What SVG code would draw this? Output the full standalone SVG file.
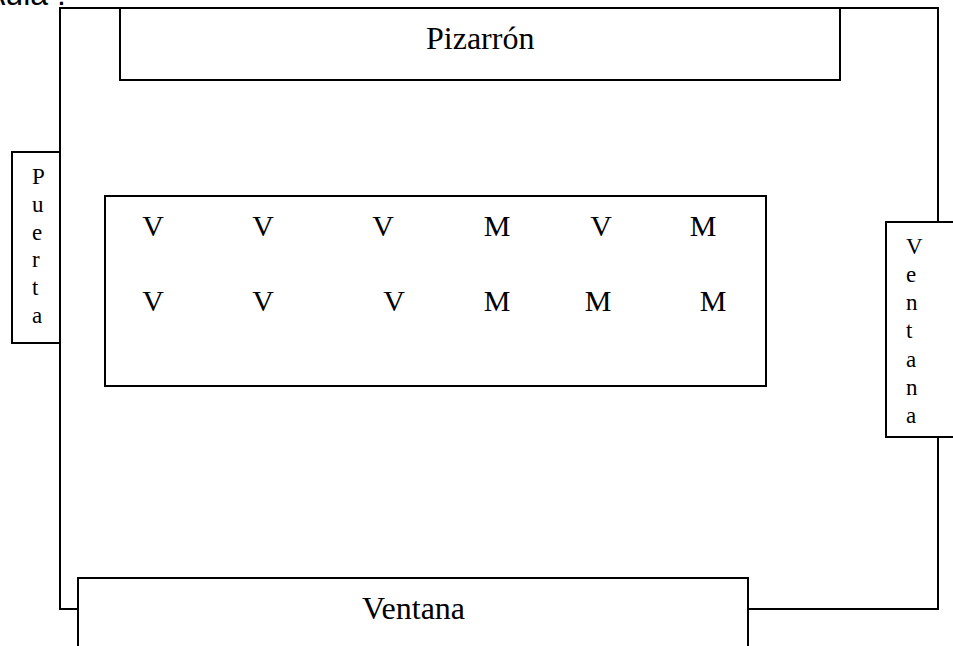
<svg xmlns="http://www.w3.org/2000/svg" width="953" height="646" viewBox="0 0 953 646">
<style>
.ln{fill:none;stroke:#000;stroke-width:2}
.bx{fill:#fff;stroke:#000;stroke-width:2}
.t{font-family:"Liberation Serif","Times New Roman",serif;fill:#000}
.big{font-size:32px}
.st{font-size:30px;text-anchor:middle}
.vt{font-size:23px}
</style>
<rect width="953" height="646" fill="#fff"/>
<text x="-16" y="5" font-family="Liberation Sans, Arial, sans-serif" font-size="32" fill="#000">Aula :</text>
<g id="walls">
<polyline class="ln" points="78,609 60,609 60,8 938,8 938,222"/>
<polyline class="ln" points="938,437 938,609 748,609"/>
</g>
<g id="pizarron">
<rect class="bx" x="120" y="8" width="720" height="72"/>
<text class="t big" x="426" y="49">Pizarrón</text>
</g>
<g id="puerta">
<rect class="bx" x="12" y="152" width="48" height="191"/>
<text class="t vt" x="32"><tspan x="32" y="184">P</tspan><tspan x="32" y="212">u</tspan><tspan x="32" y="240">e</tspan><tspan x="32" y="267">r</tspan><tspan x="32" y="295">t</tspan><tspan x="32" y="323">a</tspan></text>
</g>
<g id="ventana-derecha">
<rect class="bx" x="886" y="222" width="80" height="215"/>
<text class="t vt" x="906"><tspan x="906" y="254">V</tspan><tspan x="906" y="282">e</tspan><tspan x="906" y="310">n</tspan><tspan x="906" y="338">t</tspan><tspan x="906" y="367">a</tspan><tspan x="906" y="395">n</tspan><tspan x="906" y="423">a</tspan></text>
</g>
<g id="ventana-abajo">
<rect class="bx" x="78" y="578" width="670" height="100"/>
<text class="t big" x="362" y="619">Ventana</text>
</g>
<g id="alumnos">
<rect class="bx" x="105" y="196" width="661" height="190"/>
<text class="t st" x="153" y="236">V</text>
<text class="t st" x="263" y="236">V</text>
<text class="t st" x="383" y="236">V</text>
<text class="t st" x="497" y="236">M</text>
<text class="t st" x="601" y="236">V</text>
<text class="t st" x="703" y="236">M</text>
<text class="t st" x="153" y="311">V</text>
<text class="t st" x="263" y="311">V</text>
<text class="t st" x="394" y="311">V</text>
<text class="t st" x="497" y="311">M</text>
<text class="t st" x="598" y="311">M</text>
<text class="t st" x="713" y="311">M</text>
</g>
</svg>
